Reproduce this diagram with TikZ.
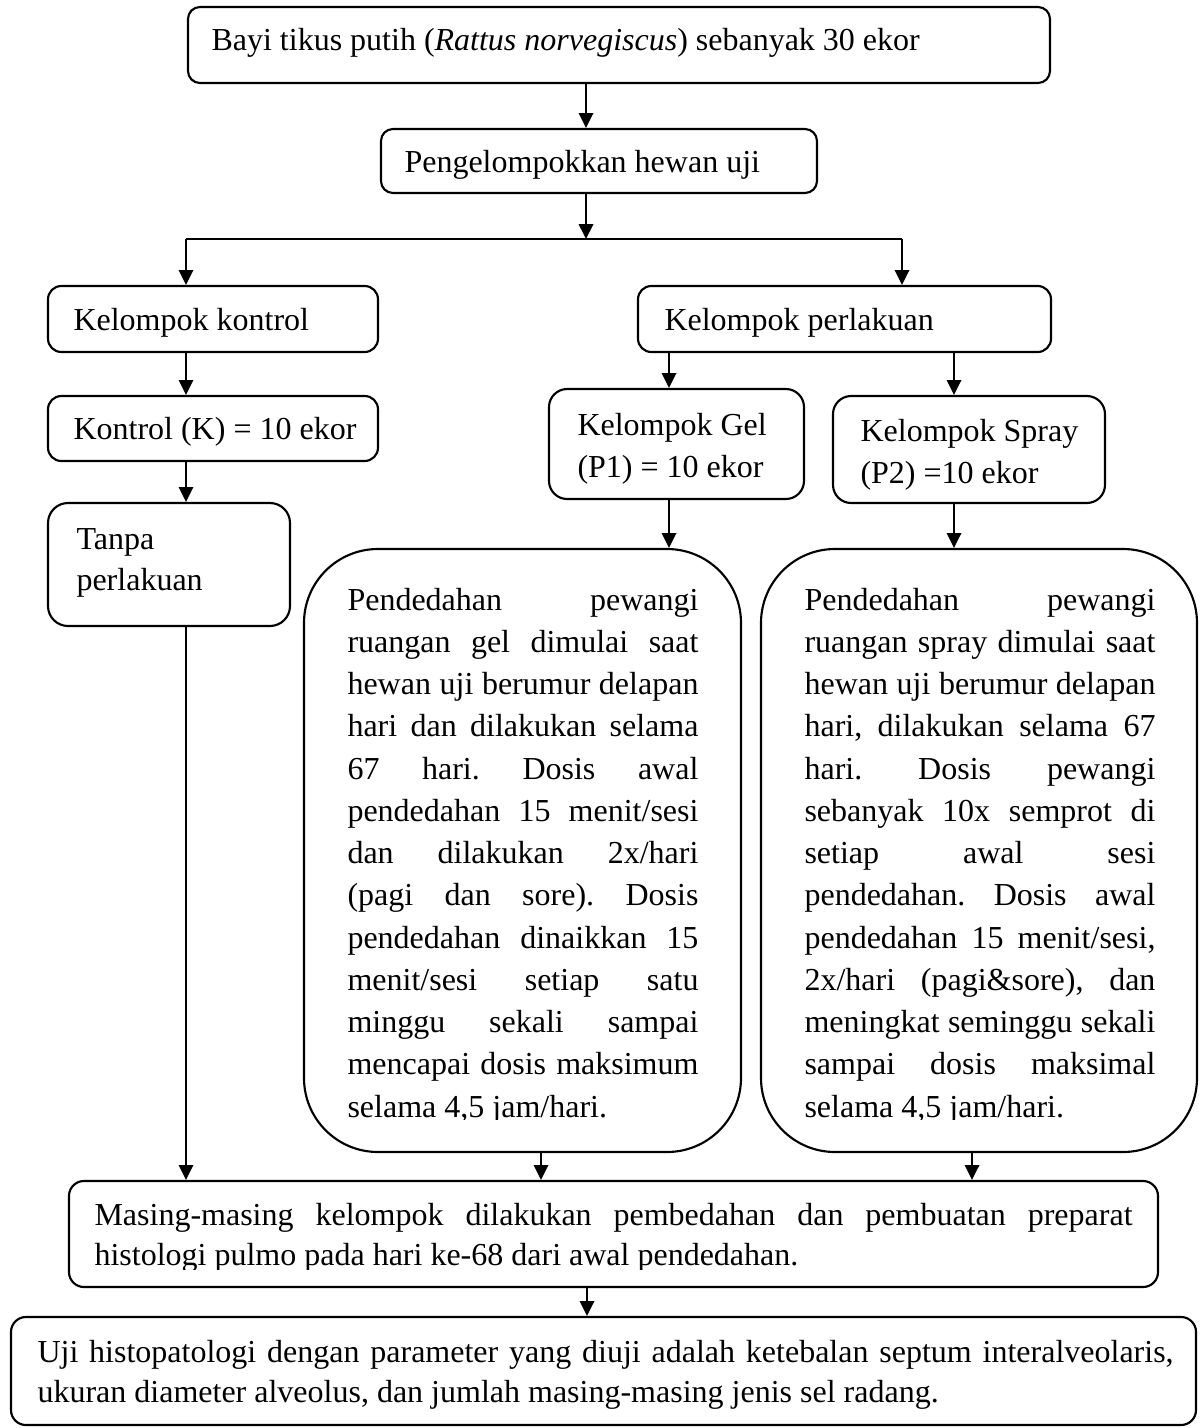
\documentclass[tikz,border=0pt]{standalone}
\usepackage{fontspec}
\setmainfont{Liberation Serif}
\usetikzlibrary{arrows.meta,fit}
\newlength{\colw}\setlength{\colw}{131.6pt}
\newlength{\masw}\setlength{\masw}{389.25pt}
\newlength{\lastw}\setlength{\lastw}{426pt}
\newcommand{\jl}[2]{\makebox[#1][s]{#2}}
\begin{document}
\frenchspacing
\begin{tikzpicture}[x=0.375pt,y=-0.375pt,
  font=\fontsize{12pt}{15.84pt}\selectfont,
  box/.style={draw, line width=0.8pt, inner sep=0pt},
  arr/.style={draw, line width=0.8pt, -{Triangle[length=5.6pt,width=5.4pt]}},
  plain/.style={draw, line width=0.8pt},
  txt/.style={anchor=base west, inner sep=0pt}]
\useasboundingbox (0,0) rectangle (1200,1428);

% boxes
\node[box, rounded corners=4.5pt, fit={(188,7)(1050,83)}] (b1) {};
\node[box, rounded corners=4.5pt, fit={(381,129)(817,193)}] (b2) {};
\node[box, rounded corners=5pt, fit={(48,286)(378,352)}] (kk) {};
\node[box, rounded corners=5pt, fit={(638,286)(1051,352)}] (kp) {};
\node[box, rounded corners=5pt, fit={(48,396)(378,461)}] (k10) {};
\node[box, rounded corners=7.5pt, fit={(48,503)(290,626)}] (tp) {};
\node[box, rounded corners=6.8pt, fit={(549,389)(804,499)}] (gel) {};
\node[box, rounded corners=6.8pt, fit={(833,396)(1105,503)}] (spr) {};
\node[box, rounded corners=27.75pt, fit={(304,549)(741,1152)}] (gelb) {};
\node[box, rounded corners=27.75pt, fit={(761,549)(1197,1152)}] (sprb) {};
\node[box, rounded corners=5.6pt, fit={(69,1181)(1158,1287)}] (mas) {};
\node[box, rounded corners=5.6pt, fit={(11,1317)(1196,1425)}] (uji) {};

% texts
\node[txt] (t1) at (211,50) {Bayi tikus putih (\textit{Rattus norvegiscus}) sebanyak 30 ekor};
\node[txt] (t2) at (404,172) {Pengelompokkan hewan uji};
\node[txt] (t3) at (73,330) {Kelompok kontrol};
\node[txt] (t4) at (664,330) {Kelompok perlakuan};
\node[txt] (t5) at (73,439) {Kontrol (K) = 10 ekor};
\node[txt] (t6a) at (76,549) {Tanpa};
\node[txt] (t6b) at (76,590) {perlakuan};
\node[txt] (t7a) at (577,435) {Kelompok Gel};
\node[txt] (t7b) at (577,477) {(P1) = 10 ekor};
\node[txt] (t8a) at (860,441) {Kelompok Spray};
\node[txt] (t8b) at (860,483) {(P2) =10 ekor};

\begin{scope}
\clip (300,540) rectangle (1200,1119);
\foreach \t [count=\i from 0] in {{Pendedahan pewangi},{ruangan gel dimulai saat},{hewan uji berumur delapan},{hari dan dilakukan selama},{67 hari. Dosis awal},{pendedahan 15 menit/sesi},{dan dilakukan 2x/hari},{(pagi dan sore). Dosis},{pendedahan dinaikkan 15},{menit/sesi setiap satu},{minggu sekali sampai},{mencapai dosis maksimum}}
  \node[txt, name=gl\i] at (347,{610+42.25*\i}) {\jl{\colw}{\t}};
\node[txt] (gl12) at (347,1117) {selama 4,5 jam/hari.};
\foreach \t [count=\i from 0] in {{Pendedahan pewangi},{ruangan spray dimulai saat},{hewan uji berumur delapan},{hari, dilakukan selama 67},{hari. Dosis pewangi},{sebanyak 10x semprot di},{setiap awal sesi},{pendedahan. Dosis awal},{pendedahan 15 menit/sesi,},{2x/hari (pagi\&sore), dan},{meningkat seminggu sekali},{sampai dosis maksimal}}
  \node[txt, name=sl\i] at (804,{610+42.25*\i}) {\jl{\colw}{\t}};
\node[txt] (sl12) at (804,1117) {selama 4,5 jam/hari.};
\end{scope}

\begin{scope}
\clip (60,1185) rectangle (1160,1269);
\node[txt] (m1) at (94,1225) {\jl{\masw}{Masing-masing kelompok dilakukan pembedahan dan pembuatan preparat}};
\node[txt] (m2) at (94,1265) {histologi pulmo pada hari ke-68 dari awal pendedahan.};
\end{scope}
\node[txt] (u1) at (37,1362) {\jl{\lastw}{Uji histopatologi dengan parameter yang diuji adalah ketebalan septum interalveolaris,}};
\node[txt] (u2) at (37,1402) {ukuran diameter alveolus, dan jumlah masing-masing jenis sel radang.};

% connector coordinates
\coordinate (xa) at (586,0);
\coordinate (jl) at (186,239);
\coordinate (jr) at (902,239);
\coordinate (jm) at (586,239);
\coordinate (xg) at (669,0);
\coordinate (xs) at (954,0);
\coordinate (xgb) at (541,0);
\coordinate (xsb) at (972,0);
\coordinate (xm) at (587,0);

% connectors
\draw[arr] (b1.south -| xa) -- (b2.north -| xa);
\draw[arr] (b2.south -| xa) -- (jm);
\draw[plain] (jl) -- (jr);
\draw[arr] (jl) -- (kk.north -| jl);
\draw[arr] (jr) -- (kp.north -| jr);
\draw[arr] (kk.south -| jl) -- (k10.north -| jl);
\draw[arr] (k10.south -| jl) -- (tp.north -| jl);
\draw[arr] (tp.south -| jl) -- (mas.north -| jl);
\draw[arr] (kp.south -| xg) -- (gel.north -| xg);
\draw[arr] (kp.south -| xs) -- (spr.north -| xs);
\draw[arr] (gel.south -| xg) -- (gelb.north -| xg);
\draw[arr] (spr.south -| xs) -- (sprb.north -| xs);
\draw[arr] (gelb.south -| xgb) -- (mas.north -| xgb);
\draw[arr] (sprb.south -| xsb) -- (mas.north -| xsb);
\draw[arr] (mas.south -| xm) -- (uji.north -| xm);
\end{tikzpicture}
\end{document}
